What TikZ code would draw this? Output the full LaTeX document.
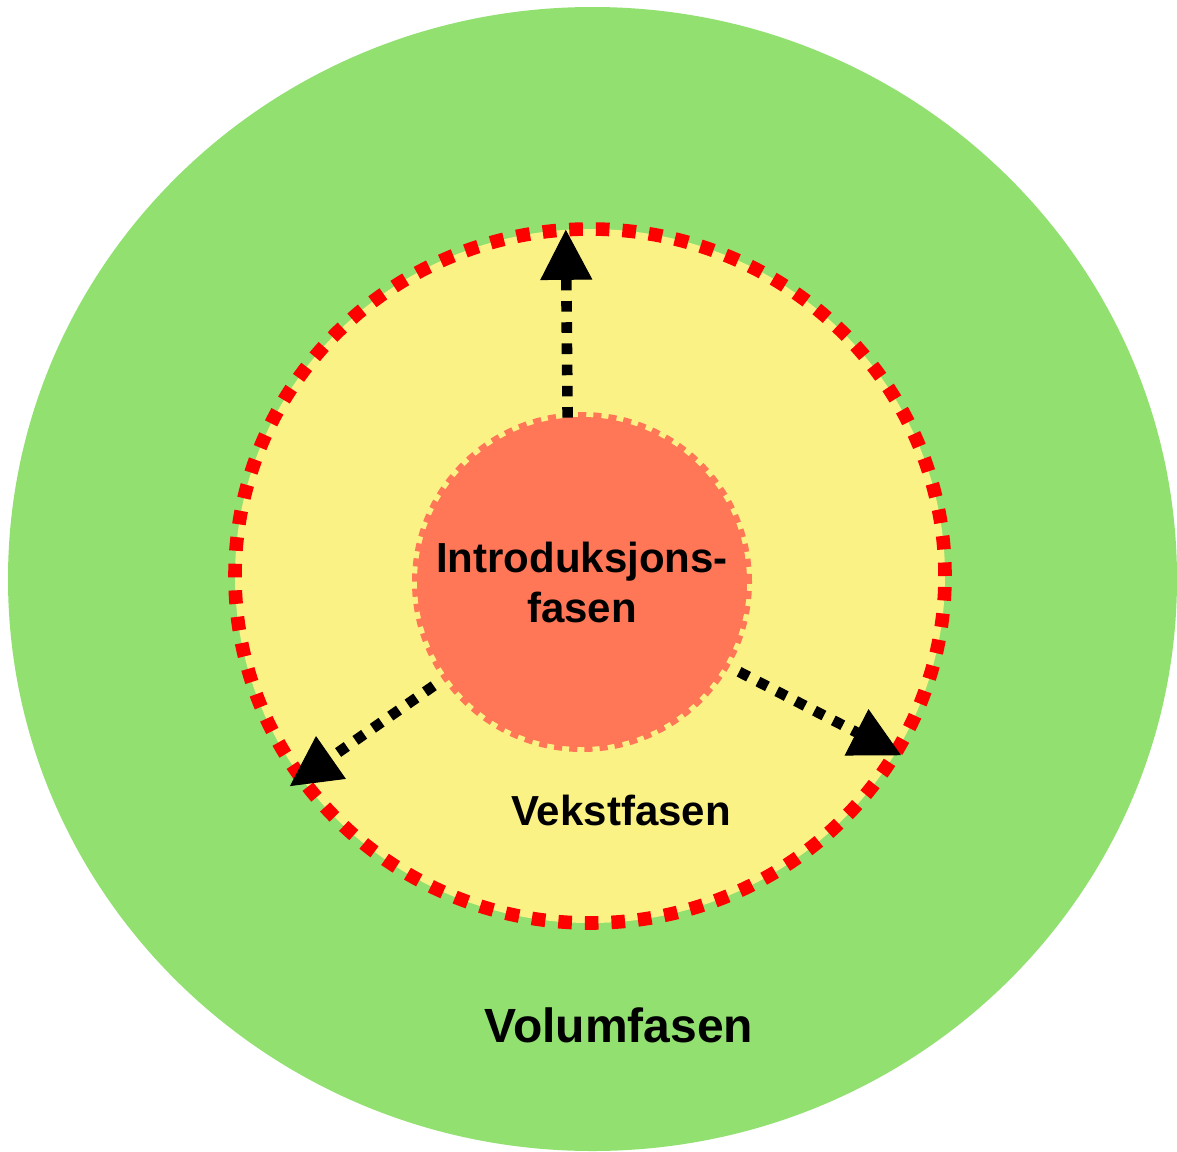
\documentclass[tikz,border=0pt]{standalone}
\usepackage{fontspec}
\setmainfont{Liberation Sans}
\usetikzlibrary{arrows.meta,shapes.geometric}
\definecolor{volumgreen}{HTML}{91E070}
\definecolor{vekstyellow}{HTML}{FBF286}
\definecolor{introred}{HTML}{FF7757}

\begin{document}
\begin{tikzpicture}[x=0.5pt,y=-0.5pt,
		fase/.style={font=\bfseries\fontsize{21}{25}\selectfont},
		ring/.style={inner sep=0pt, outer sep=0pt},
		pil/.style={draw=black, line width=5.3pt, dash pattern=on 5.3pt off 5.3pt,
			-{Triangle[width=26pt,length=25pt,line width=0.5pt]}}]
		\useasboundingbox (0,0) rectangle (1177,1151);
		% the three phases
		\node [ring, ellipse, fill=volumgreen, minimum width=584.5pt, minimum height=572pt] (volum) at (592.5,579) {};
		\node [ring, ellipse, fill=vekstyellow, draw=red, line width=6.8pt, dash pattern=on 6.8pt off 6.5pt,
			minimum width=355pt, minimum height=347pt] (vekst) at (590,576) {};
		\node [ring, circle, fill=introred, draw=introred, line width=5pt, dash pattern=on 4pt off 3.5pt,
			minimum size=165pt, fase, align=center] (intro) at (582,582) {Introduksjons-\\fasen};
		\node [fase, anchor=base] (vekstnavn) at (621,825) {Vekstfasen};
		\node [fase, font=\bfseries\fontsize{24}{28}\selectfont, anchor=base] (volumnavn) at (619,1042) {Volumfasen};
		% growth arrows
		\draw [pil] (intro.95) -- (vekst.94);
		\draw [pil, shorten <=8pt, shorten >=-7pt] (intro.215) -- (vekst.215);
		\draw [pil, shorten <=8pt, shorten >=-3pt] (intro.-30) -- (vekst.-30);
	\end{tikzpicture}
\end{document}
